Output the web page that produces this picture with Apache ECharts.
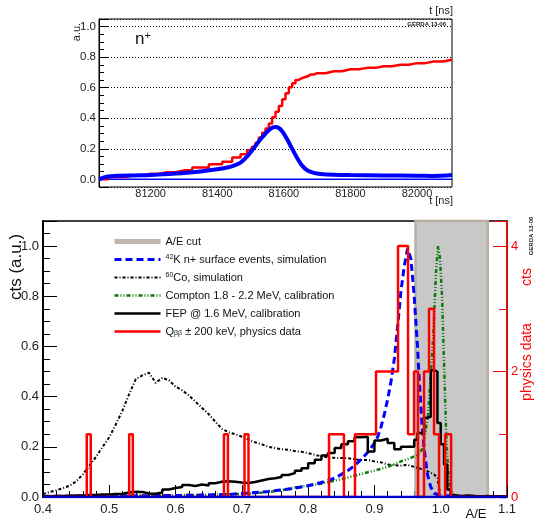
<!DOCTYPE html>
<html>
<head>
<meta charset="utf-8">
<script src="https://cdn.jsdelivr.net/npm/echarts@6/dist/echarts.min.js"></script>
<style>
html, body { margin: 0; padding: 0; background: #fff; }
#chart { width: 538px; height: 520px; }
</style>
</head>
<body>
<div id="chart"></div>
<script>
// top panel: n+ pulse, charge (red) and current (blue)
const pulseT = [81045, 81100, 81150, 81200, 81250, 81300, 81350, 81400, 81430, 81460, 81480, 81500, 81510, 81520, 81530, 81540, 81550, 81560, 81570, 81580, 81590, 81600, 81610, 81620, 81630, 81640, 81650, 81660, 81680, 81700, 81750, 81800, 81850, 81900, 81950, 82000, 82050, 82105];
const chargeVals = [0.0, 0.015, 0.026, 0.037, 0.046, 0.059, 0.077, 0.099, 0.116, 0.143, 0.164, 0.19, 0.213, 0.239, 0.274, 0.305, 0.333, 0.366, 0.406, 0.443, 0.48, 0.524, 0.564, 0.603, 0.629, 0.651, 0.664, 0.673, 0.686, 0.695, 0.708, 0.721, 0.73, 0.741, 0.75, 0.761, 0.772, 0.783];
const currentT = [81045, 81060, 81080, 81100, 81150, 81200, 81250, 81300, 81350, 81400, 81430, 81450, 81470, 81490, 81510, 81530, 81550, 81565, 81575, 81585, 81595, 81610, 81625, 81640, 81655, 81670, 81690, 81710, 81750, 81800, 81900, 82000, 82050, 82105];
const currentVals = [0.0, 0.012, 0.02, 0.024, 0.026, 0.028, 0.035, 0.042, 0.052, 0.066, 0.078, 0.09, 0.11, 0.15, 0.205, 0.262, 0.312, 0.338, 0.343, 0.336, 0.315, 0.262, 0.2, 0.14, 0.09, 0.06, 0.042, 0.035, 0.03, 0.028, 0.026, 0.024, 0.022, 0.028];

// bottom panel: A/E distributions
const aeCut = [0.962, 1.071];

const k42X = [0.40, 0.45, 0.50, 0.55, 0.60, 0.65, 0.68, 0.70, 0.72, 0.74, 0.76, 0.78, 0.80, 0.82, 0.84, 0.86, 0.87, 0.88, 0.89, 0.90, 0.905, 0.91, 0.915, 0.92, 0.925, 0.93, 0.935, 0.94, 0.945, 0.95, 0.955, 0.96, 0.965, 0.968, 0.972, 0.976, 0.98, 0.985, 0.99, 1.00, 1.10];
const k42Y = [0.003, 0.003, 0.004, 0.005, 0.006, 0.008, 0.01, 0.014, 0.018, 0.022, 0.028, 0.035, 0.045, 0.058, 0.075, 0.105, 0.125, 0.15, 0.178, 0.215, 0.24, 0.28, 0.33, 0.39, 0.46, 0.55, 0.68, 0.82, 0.92, 0.99, 0.95, 0.8, 0.6, 0.45, 0.28, 0.17, 0.09, 0.04, 0.015, 0.005, 0.0];

const co60X = [0.40, 0.41, 0.42, 0.43, 0.44, 0.45, 0.46, 0.47, 0.48, 0.49,
  0.50, 0.51, 0.52, 0.53, 0.54, 0.55, 0.56, 0.57, 0.58, 0.59,
  0.60, 0.61, 0.62, 0.63, 0.64, 0.65, 0.66, 0.67, 0.68, 0.69,
  0.70, 0.71, 0.72, 0.73, 0.74, 0.75, 0.76, 0.77, 0.78, 0.79,
  0.80, 0.81, 0.82, 0.83, 0.84, 0.85, 0.86, 0.87, 0.88, 0.89,
  0.90, 0.91, 0.92, 0.93, 0.94, 0.95, 0.96, 0.97, 0.98, 0.99, 0.995, 1.00];
const co60Y = [0.012, 0.02, 0.027, 0.035, 0.045, 0.062, 0.09, 0.125, 0.16, 0.2,
  0.238, 0.29, 0.345, 0.41, 0.47, 0.485, 0.495, 0.455, 0.475, 0.465,
  0.44, 0.425, 0.405, 0.38, 0.355, 0.33, 0.3, 0.272, 0.258, 0.25,
  0.24, 0.228, 0.218, 0.21, 0.2, 0.195, 0.19, 0.188, 0.183, 0.18,
  0.175, 0.168, 0.162, 0.158, 0.156, 0.155, 0.155, 0.15, 0.147, 0.147,
  0.142, 0.138, 0.13, 0.127, 0.125, 0.128, 0.12, 0.112, 0.103, 0.09, 0.075, 0.0];

const comptonX = [0.40, 0.45, 0.50, 0.55, 0.60, 0.65, 0.70, 0.72, 0.74, 0.76, 0.78, 0.80, 0.82, 0.84, 0.86, 0.88, 0.90, 0.92, 0.94, 0.955, 0.965, 0.972, 0.977, 0.981, 0.984, 0.987, 0.99, 0.993, 0.996, 0.999, 1.002, 1.004, 1.006, 1.008, 1.011, 1.014, 1.02, 1.03];
const comptonY = [0.002, 0.003, 0.004, 0.005, 0.007, 0.009, 0.012, 0.015, 0.02, 0.027, 0.038, 0.045, 0.053, 0.065, 0.078, 0.092, 0.105, 0.12, 0.142, 0.156, 0.168, 0.19, 0.26, 0.33, 0.45, 0.56, 0.72, 0.9, 1.0, 0.95, 0.8, 0.62, 0.45, 0.27, 0.11, 0.035, 0.005, 0.0];

// FEP histogram: bin edges and contents
const fepEdges = [0.40, 0.41, 0.42, 0.43, 0.44, 0.45, 0.46, 0.47, 0.48, 0.49,
  0.50, 0.51, 0.52, 0.53, 0.54, 0.55, 0.56, 0.57, 0.58, 0.59,
  0.60, 0.61, 0.62, 0.63, 0.64, 0.65, 0.66, 0.67, 0.68, 0.69,
  0.70, 0.71, 0.72, 0.73, 0.74, 0.75, 0.76, 0.77, 0.78, 0.79,
  0.80, 0.81, 0.82, 0.83, 0.84, 0.85, 0.86, 0.87, 0.88, 0.89,
  0.90, 0.91, 0.92, 0.93, 0.94, 0.95, 0.96,
  0.965, 0.97, 0.975, 0.98, 0.985, 0.99, 0.995, 1.00, 1.005, 1.01, 1.015,
  1.02, 1.03, 1.04, 1.05, 1.06, 1.07, 1.08, 1.09, 1.10];
const fepVals = [0.003, 0.004, 0.004, 0.005, 0.006, 0.006, 0.008, 0.008, 0.01, 0.01,
  0.012, 0.013, 0.018, 0.021, 0.02, 0.014, 0.013, 0.018, 0.03, 0.036,
  0.04, 0.048, 0.044, 0.05, 0.046, 0.055, 0.061, 0.063, 0.061, 0.058,
  0.056, 0.06, 0.066, 0.072, 0.075, 0.08, 0.088, 0.095, 0.105, 0.115,
  0.135, 0.148, 0.165, 0.175, 0.195, 0.21, 0.222, 0.238, 0.24, 0.181,
  0.225, 0.232, 0.215, 0.19, 0.2, 0.2, 0.228,
  0.255, 0.255, 0.316, 0.32, 0.505, 0.5, 0.295, 0.21, 0.13, 0.03, 0.008,
  0.003, 0.006, 0.004, 0.002, 0.004, 0.002, 0.003, 0.002];

// physics data (Qbb +- 200 keV), counts per bin
const physLo = [0.466, 0.530, 0.673, 0.704, 0.8315, 0.8707, 0.9024, 0.9356, 0.9507, 0.9597, 0.9748, 0.9824, 0.9899, 1.0067];
const physHi = [0.472, 0.5355, 0.679, 0.710, 0.854, 0.9024, 0.9356, 0.9507, 0.9597, 0.9658, 0.9824, 0.9899, 0.9975, 1.0157];
const physCounts = [1, 1, 1, 1, 1, 1, 2, 4, 1, 2, 2, 3, 1, 1];

const FONT = "Liberation Sans, Arial, sans-serif";

const zip = (xs, ys) => xs.map((x, i) => [x, ys[i]]);

function histPoints(edges, vals) {
    const pts = [];
    vals.forEach((v, i) => {
        pts.push([edges[i], v], [edges[i + 1], v]);
    });
    return pts;
}

function physPoints() {
    const pts = [[0.4, 0]];
    let prevHi = 0.4;
    physCounts.forEach((c, i) => {
        if (Math.abs(physLo[i] - prevHi) > 1e-6) pts.push([prevHi, 0], [physLo[i], 0]);
        pts.push([physLo[i], c], [physHi[i], c]);
        prevHi = physHi[i];
    });
    pts.push([prevHi, 0], [1.1, 0]);
    return pts;
}

const onStep = (v, step) => Math.abs(v / step - Math.round(v / step)) < 1e-6;

const legendText = {
    "A/E cut": "A/E cut",
    "42K": "{sup|42}K n+ surface events, simulation",
    "60Co": "{sup|60}Co, simulation",
    "Compton": "Compton 1.8 - 2.2 MeV, calibration",
    "FEP": "FEP @ 1.6 MeV, calibration",
    "Qbb": "Q{sub|ββ} ± 200 keV, physics data",
};

const chart = echarts.init(document.getElementById("chart"), null, { renderer: "canvas" });

const line = (o) => Object.assign({
    type: "line",
    symbol: "none",
    silent: true,
    animation: false,
}, o);

const option = {
    backgroundColor: "#fff",
    animation: false,
    textStyle: { fontFamily: FONT },

    grid: [
        { left: 99, top: 19, width: 353, height: 168, show: true, borderColor: "#000", borderWidth: 1, backgroundColor: "#fff" },
        { left: 43, top: 221, width: 464, height: 276, show: true, borderColor: "#000", borderWidth: 1.5, backgroundColor: "#fff" },
    ],

    xAxis: [
        {
            gridIndex: 0, type: "value", min: 81045, max: 82105,
            axisLine: { lineStyle: { color: "#000", width: 1 } },
            axisTick: { show: false },
            splitLine: { show: false },
            axisLabel: {
                color: "#222", fontSize: 11, fontFamily: FONT, margin: 1,
                formatter: (v) => (onStep(v, 200) ? String(v) : ""),
            },
        },
        {
            gridIndex: 1, type: "value", min: 0.4, max: 1.1, interval: 0.1,
            axisLine: { lineStyle: { color: "#000", width: 1.5 } },
            axisTick: { inside: true, length: 12, lineStyle: { color: "#000" } },
            minorTick: { show: true, splitNumber: 5, length: 6, lineStyle: { color: "#000" } },
            splitLine: { show: false },
            axisLabel: {
                color: "#222", fontSize: 13, fontFamily: FONT, margin: 6,
                formatter: (v) => v.toFixed(1),
            },
        },
    ],

    yAxis: [
        {
            gridIndex: 0, type: "value", min: -0.05, max: 1.05,
            axisLine: { show: true, lineStyle: { color: "#000", width: 1 } },
            axisTick: { inside: true, length: 9, lineStyle: { color: "#000" } },
            minorTick: { show: true, splitNumber: 4, length: 5, lineStyle: { color: "#000" } },
            splitLine: { show: true, lineStyle: { color: "#000", width: 1, type: [1, 2] } },
            axisLabel: {
                color: "#222", fontSize: 11.5, fontFamily: FONT, margin: 3,
                formatter: (v) => (onStep(v, 0.2) ? v.toFixed(1) : ""),
            },
        },
        {
            gridIndex: 1, type: "value", min: 0, max: 1.1, interval: 0.2, position: "left",
            axisLine: { show: true, lineStyle: { color: "#000", width: 2 } },
            axisTick: { inside: true, length: 14, lineStyle: { color: "#000" } },
            minorTick: { show: true, splitNumber: 4, length: 7, lineStyle: { color: "#000" } },
            splitLine: { show: false },
            axisLabel: {
                color: "#222", fontSize: 13, fontFamily: FONT, margin: 4,
                formatter: (v) => (v > 1.05 ? "" : v.toFixed(1)),
            },
        },
        {
            gridIndex: 1, type: "value", min: 0, max: 4.4, interval: 2, position: "right",
            axisLine: { show: true, lineStyle: { color: "#ff0000", width: 1.5 } },
            axisTick: { inside: true, length: 14, lineStyle: { color: "#ff0000" } },
            minorTick: { show: true, splitNumber: 2, length: 8, lineStyle: { color: "#ff0000" } },
            splitLine: { show: false },
            axisLabel: {
                color: "#ff0000", fontSize: 13, fontFamily: FONT, margin: 4,
                formatter: (v) => (v > 4.1 ? "" : String(v)),
            },
        },
    ],

    legend: {
        orient: "vertical",
        left: 107,
        top: 231,
        itemWidth: 46,
        itemHeight: 12,
        itemGap: 7,
        selectedMode: false,
        itemStyle: { opacity: 0 },
        lineStyle: { width: "inherit" },
        data: ["A/E cut", "42K", "60Co", "Compton", "FEP", "Qbb"],
        formatter: (name) => legendText[name],
        textStyle: {
            fontSize: 11,
            fontFamily: FONT,
            color: "#111",
            rich: {
                sup: { fontSize: 7, verticalAlign: "top", fontFamily: FONT, color: "#111" },
                sub: { fontSize: 7, verticalAlign: "bottom", fontFamily: FONT, color: "#111" },
            },
        },
    },

    graphic: [
        { type: "text", x: 453, y: 11, style: { text: "t [ns]", fontSize: 11, fontFamily: FONT, fill: "#222", align: "right", verticalAlign: "middle" } },
        { type: "text", x: 453, y: 201, style: { text: "t [ns]", fontSize: 11, fontFamily: FONT, fill: "#222", align: "right", verticalAlign: "middle" } },
        { type: "text", x: 77, y: 32, rotation: Math.PI / 2, style: { text: "a.u.", fontSize: 11, fontFamily: FONT, fill: "#222", align: "center", verticalAlign: "middle" } },
        { type: "text", x: 446, y: 24, style: { text: "GERDA 13-06", fontSize: 6, fontWeight: "bold", fontFamily: FONT, fill: "#222", align: "right", verticalAlign: "middle" } },
        {
            type: "text", x: 135, y: 39,
            style: {
                text: "{a|n}{b|+}", fontFamily: FONT, fill: "#111", verticalAlign: "middle",
                rich: { a: { fontSize: 17, fontFamily: FONT, fill: "#111" }, b: { fontSize: 11, verticalAlign: "top", fontFamily: FONT, fill: "#111" } },
            },
        },
        { type: "text", x: 16, y: 267, rotation: Math.PI / 2, style: { text: "cts (a.u.)", fontSize: 17, fontFamily: FONT, fill: "#111", align: "center", verticalAlign: "middle" } },
        { type: "text", x: 527, y: 277, rotation: Math.PI / 2, style: { text: "cts", fontSize: 14, fontFamily: FONT, fill: "#ff0000", align: "center", verticalAlign: "middle" } },
        { type: "text", x: 527, y: 362, rotation: Math.PI / 2, style: { text: "physics data", fontSize: 14, fontFamily: FONT, fill: "#ff0000", align: "center", verticalAlign: "middle" } },
        { type: "text", x: 531, y: 236, rotation: Math.PI / 2, style: { text: "GERDA 13-06", fontSize: 6, fontWeight: "bold", fontFamily: FONT, fill: "#222", align: "center", verticalAlign: "middle" } },
        { type: "text", x: 476, y: 514, style: { text: "A/E", fontSize: 13, fontFamily: FONT, fill: "#111", align: "center", verticalAlign: "middle" } },
    ],

    series: [
        // top panel
        line({
            name: "zero", xAxisIndex: 0, yAxisIndex: 0, z: 3,
            data: [[81045, 0], [82105, 0]],
            lineStyle: { color: "#0000ff", width: 1.5 },
        }),
        line({
            name: "charge", xAxisIndex: 0, yAxisIndex: 0, step: "middle", z: 4,
            data: zip(pulseT, chargeVals),
            lineStyle: { color: "#ff0000", width: 2.5 },
        }),
        line({
            name: "current", xAxisIndex: 0, yAxisIndex: 0, smooth: 0.3, z: 5,
            data: zip(currentT, currentVals),
            lineStyle: { color: "#0000ff", width: 4 },
        }),

        // bottom panel
        line({
            name: "A/E cut", xAxisIndex: 1, yAxisIndex: 1, z: 1,
            data: [],
            lineStyle: { color: "#bfb7ad", width: 5 },
            itemStyle: { color: "#bfb7ad" },
            markArea: {
                silent: true,
                itemStyle: { color: "#c8c8c8", borderColor: "#b9ae9f", borderWidth: 2.5 },
                data: [[{ xAxis: aeCut[0] }, { xAxis: aeCut[1] }]],
            },
        }),
        line({
            name: "60Co", xAxisIndex: 1, yAxisIndex: 1, z: 3,
            data: zip(co60X, co60Y),
            lineStyle: { color: "#000", width: 2, type: [3, 2, 1, 2] },
            itemStyle: { color: "#000" },
        }),
        line({
            name: "Compton", xAxisIndex: 1, yAxisIndex: 1, z: 3,
            data: zip(comptonX, comptonY),
            lineStyle: { color: "#0a7a0a", width: 2.5, type: [4, 2, 1, 2, 1, 2] },
            itemStyle: { color: "#0a7a0a" },
        }),
        line({
            name: "42K", xAxisIndex: 1, yAxisIndex: 1, z: 4,
            data: zip(k42X, k42Y),
            lineStyle: { color: "#0000ff", width: 3, type: [7, 4] },
            itemStyle: { color: "#0000ff" },
        }),
        line({
            name: "FEP", xAxisIndex: 1, yAxisIndex: 1, z: 5,
            data: histPoints(fepEdges, fepVals),
            lineStyle: { color: "#000", width: 2.5 },
            itemStyle: { color: "#000" },
        }),
        line({
            name: "Qbb", xAxisIndex: 1, yAxisIndex: 2, z: 6,
            data: physPoints(),
            lineStyle: { color: "#ff0000", width: 2.5 },
            itemStyle: { color: "#ff0000" },
        }),
        line({
            name: "zero2", xAxisIndex: 1, yAxisIndex: 1, z: 7,
            data: [[0.4, 0], [1.1, 0]],
            lineStyle: { color: "#0000cc", width: 2.5 },
        }),
    ],
};

chart.setOption(option);
</script>
</body>
</html>
